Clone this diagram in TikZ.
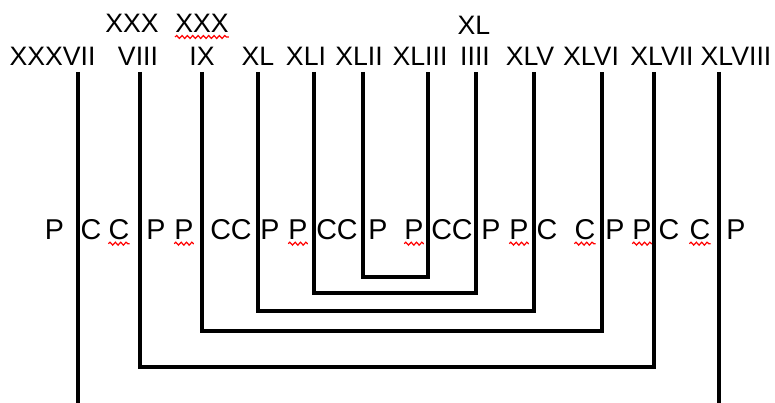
\documentclass[tikz,border=0pt]{standalone}
\usepackage{fontspec}
\setmainfont{Liberation Sans}
\usetikzlibrary{decorations.pathmorphing}

\begin{document}
\begin{tikzpicture}[x=0.75pt, y=-0.75pt,
    lbl/.style={anchor=base, inner sep=0pt, font=\fontsize{20}{24}\selectfont},
    let/.style={anchor=base, inner sep=0pt, font=\fontsize{21.5}{26}\selectfont},
    bar/.style={line width=2.6pt},
    typo/.style={red, line width=0.9pt, decorate,
      decoration={snake, amplitude=1.1pt, segment length=4pt}}]
  \useasboundingbox (0,0) rectangle (775,403);

  % Upper row of labels
  \node[lbl] (u1) at (132,33) {XXX};
  \node[lbl] (u2) at (202,33) {XXX};
  \node[lbl] (u3) at (474,35) {XL};

  % Main row of labels
  \foreach \name/\cx/\txt in {l1/52.5/XXXVII, l2/138/VIII, l3/202/IX, l4/258/XL,
      l5/306/XLI, l6/359/XLII, l7/420/XLIII, l8/475/IIII, l9/530/XLV,
      l10/591/XLVI, l11/662/XLVII, l12/736/XLVIII}
    \node[lbl] (\name) at (\cx,66) {\txt};

  % Row of letters between the lines
  \foreach \k/\cx/\txt in {1/54.5/P, 2/91/C, 3/119/C, 4/156/P, 5/184/P, 6/231/CC,
      7/270/P, 8/298/P, 9/337/CC, 10/378/P, 11/414/P, 12/452/CC, 13/491/P,
      14/519/P, 15/547/C, 16/585/C, 17/615/P, 18/642/P, 19/669/C, 20/700/C, 21/736/P}
    \node[let] (m\k) at (\cx,239) {\txt};

  % Top ends of the lines
  \foreach \i/\lx in {1/78, 2/140, 3/202, 4/258, 5/314, 6/363, 7/428, 8/476,
      9/534, 10/602, 11/654, 12/719}
    \coordinate (t\i) at (\lx,72);

  % Outer lines run to the bottom
  \coordinate (e1) at (78,403);
  \coordinate (e12) at (719,403);
  \draw[bar] (t1) -- (e1);
  \draw[bar] (t12) -- (e12);

  % Nested brackets
  \foreach \a/\b/\d in {6/7/277, 5/8/293, 4/9/311, 3/10/331, 2/11/367}
    \draw[bar] (t\a) -- (t\a |- 0,\d) -| (t\b);

  % Spell-check squiggles
  \draw[typo] ([yshift=-3pt]u2.base west) -- ([yshift=-3pt]u2.base east);
  \foreach \k in {3,5,8,11,14,16,18,20}
    \draw[typo] ([yshift=-3.5pt]m\k.base west) -- ([yshift=-3.5pt]m\k.base east);
\end{tikzpicture}
\end{document}
